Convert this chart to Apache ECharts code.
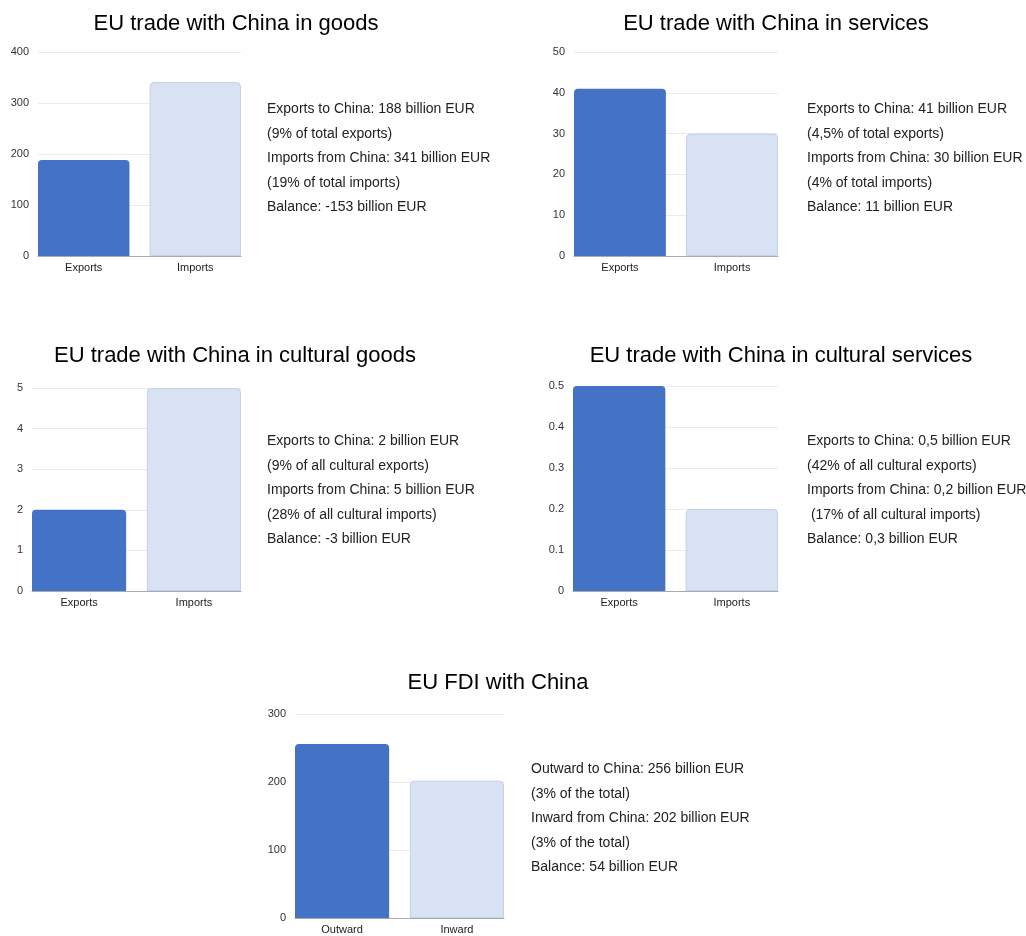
<!DOCTYPE html>
<html>
<head>
<meta charset="utf-8">
<script src="https://cdn.jsdelivr.net/npm/echarts@6/dist/echarts.min.js"></script>
<style>
html,body{margin:0;padding:0;background:#fff;}
#chart{width:1026px;height:936px;}
</style>
</head>
<body>
<div id="chart"></div>
<script>
// ---- data ----
const panelTitles = [
  'EU trade with China in goods',
  'EU trade with China in services',
  'EU trade with China in cultural goods',
  'EU trade with China in cultural services',
  'EU FDI with China'
];
const tradeCategories = ['Exports', 'Imports'];
const fdiCategories = ['Outward', 'Inward'];
const goodsValues = [188, 341];
const servicesValues = [41, 30];
const culturalGoodsValues = [2, 5];
const culturalServicesValues = [0.5, 0.2];
const fdiValues = [256, 202];
const axisMax = [400, 50, 5, 0.5, 300];
const axisStep = [100, 10, 1, 0.1, 100];
const goodsNotes = ['Exports to China: 188 billion EUR', '(9% of total exports)', 'Imports from China: 341 billion EUR', '(19% of total imports)', 'Balance: -153 billion EUR'];
const servicesNotes = ['Exports to China: 41 billion EUR', '(4,5% of total exports)', 'Imports from China: 30 billion EUR', '(4% of total imports)', 'Balance: 11 billion EUR'];
const culturalGoodsNotes = ['Exports to China: 2 billion EUR', '(9% of all cultural exports)', 'Imports from China: 5 billion EUR', '(28% of all cultural imports)', 'Balance: -3 billion EUR'];
const culturalServicesNotes = ['Exports to China: 0,5 billion EUR', '(42% of all cultural exports)', 'Imports from China: 0,2 billion EUR', ' (17% of all cultural imports)', 'Balance: 0,3 billion EUR'];
const fdiNotes = ['Outward to China: 256 billion EUR', '(3% of the total)', 'Inward from China: 202 billion EUR', '(3% of the total)', 'Balance: 54 billion EUR'];

// ---- layout ----
const FONT = "'Liberation Sans', Arial, sans-serif";
const panels = [
  {cats: tradeCategories, vals: goodsValues, notes: goodsNotes, grid: {left: 38, top: 52, width: 203, height: 204}, titleX: 236, titleY: 13, noteX: 267, noteY: 97},
  {cats: tradeCategories, vals: servicesValues, notes: servicesNotes, grid: {left: 574, top: 52, width: 204, height: 204}, titleX: 776, titleY: 13, noteX: 807, noteY: 97},
  {cats: tradeCategories, vals: culturalGoodsValues, notes: culturalGoodsNotes, grid: {left: 32, top: 388, width: 209, height: 203}, titleX: 235, titleY: 345, noteX: 267, noteY: 429},
  {cats: tradeCategories, vals: culturalServicesValues, notes: culturalServicesNotes, grid: {left: 573, top: 386, width: 205, height: 205}, titleX: 781, titleY: 345, noteX: 807, noteY: 429},
  {cats: fdiCategories, vals: fdiValues, notes: fdiNotes, grid: {left: 295, top: 714, width: 209, height: 204}, titleX: 498, titleY: 672, noteX: 531, noteY: 757}
];
const barColors = ['#4472c4', '#d9e2f3'];
const barBorders = ['#4472c4', '#c3d1ec'];

const option = {
  animation: false,
  backgroundColor: '#ffffff',
  title: [], grid: [], xAxis: [], yAxis: [], series: [], graphic: []
};

panels.forEach((p, i) => {
  option.title.push({
    text: panelTitles[i], left: p.titleX, top: p.titleY, textAlign: 'center', padding: 0,
    textStyle: {fontFamily: FONT, fontSize: 22, fontWeight: 'normal', color: '#000'}
  });
  option.grid.push(Object.assign({containLabel: false}, p.grid));
  option.xAxis.push({
    type: 'category', gridIndex: i, data: [''],
    axisLine: {show: true, lineStyle: {color: '#aaaaaa', width: 1}},
    axisTick: {show: false}, axisLabel: {show: false}, splitLine: {show: false}
  });
  option.yAxis.push({
    type: 'value', gridIndex: i, min: 0, max: axisMax[i], interval: axisStep[i],
    axisLine: {show: false}, axisTick: {show: false},
    axisLabel: {margin: 9, fontFamily: FONT, fontSize: 11, color: '#333'},
    splitLine: {lineStyle: {color: '#ebebeb', width: 1}}
  });
  p.cats.forEach((c, k) => {
    option.series.push({
      type: 'bar', name: c, xAxisIndex: i, yAxisIndex: i,
      data: [p.vals[k]],
      barGap: '22%', barCategoryGap: '0%',
      itemStyle: {color: barColors[k], borderColor: barBorders[k], borderWidth: k === 1 ? 1 : 0, borderRadius: [4, 4, 0, 0]},
      label: {show: true, position: 'bottom', distance: 6, formatter: '{a}', fontFamily: FONT, fontSize: 11, color: '#222'}
    });
  });
  option.graphic.push({
    type: 'text', left: p.noteX, top: p.noteY,
    style: {text: p.notes.join('\n'), font: '14px ' + FONT, lineHeight: 24.5, fill: '#222'}
  });
});

const chart = echarts.init(document.getElementById('chart'), null, {renderer: 'canvas'});
chart.setOption(option);
</script>
</body>
</html>
